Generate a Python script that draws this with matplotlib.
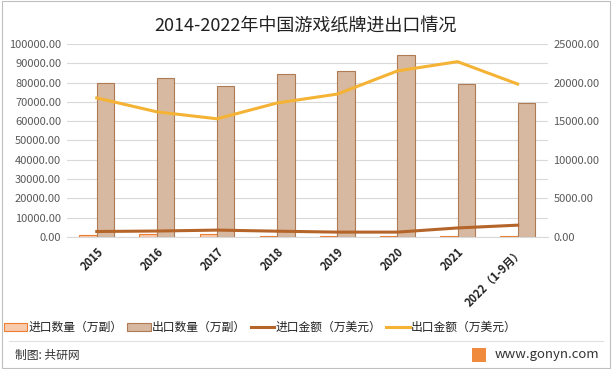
import numpy as np
import matplotlib.pyplot as plt
from matplotlib.patches import Rectangle
from matplotlib.lines import Line2D

plt.rcParams['font.family'] = ['Noto Sans CJK SC', 'DejaVu Sans']

years = ['2015', '2016', '2017', '2018', '2019', '2020', '2021', '2022（1-9月）']
import_qty = [1200, 1250, 1300, 700, 650, 600, 550, 500]
export_qty = [79800, 82400, 78200, 84500, 86000, 94300, 79400, 69400]
import_amt = [700, 760, 880, 740, 620, 620, 1160, 1520]
export_amt = [18000, 16200, 15300, 17350, 18500, 21500, 22700, 19800]

fig = plt.figure(figsize=(6.12, 3.69), dpi=100)
fig.patches.append(Rectangle((0.003, 0.003), 0.994, 0.994, transform=fig.transFigure,
                             fill=False, edgecolor='#BFBFBF', linewidth=0.8))

ax = fig.add_axes([0.109, 0.358, 0.786, 0.523])
ax2 = ax.twinx()

x = np.arange(len(years))
w = 0.29
ax.bar(x - w / 2, import_qty, w, color='#F8CBAD', edgecolor='#ED7D31', linewidth=0.8, zorder=2)
ax.bar(x + w / 2, export_qty, w, color='#D6B9A0', edgecolor='#B07A55', linewidth=0.8, zorder=2)
ax2.plot(x, import_amt, color='#B5652A', linewidth=2.2, zorder=3)
ax2.plot(x, export_amt, color='#F5B335', linewidth=2.2, zorder=3)

ax.set_xlim(-0.5, len(years) - 0.5)
ax.set_ylim(0, 100000)
ax2.set_ylim(0, 25000)
ax.set_yticks(np.arange(0, 100001, 10000))
ax2.set_yticks(np.arange(0, 25001, 5000))
ax.set_yticklabels(['%.2f' % v for v in np.arange(0, 100001, 10000)])
ax2.set_yticklabels(['%.2f' % v for v in np.arange(0, 25001, 5000)])
ax.grid(axis='y', color='#D9D9D9', linewidth=0.8, zorder=0)
ax.set_axisbelow(True)

for a in (ax, ax2):
    for s in a.spines.values():
        s.set_visible(False)
    a.tick_params(axis='y', length=0, labelsize=8, labelcolor='#595959', pad=4)
ax.spines['bottom'].set_visible(True)
ax.spines['bottom'].set_color('#D9D9D9')

ax.set_xticks(x)
ax.set_xticklabels(years, rotation=45, ha='right', rotation_mode='anchor',
                   fontsize=8, fontweight='bold', color='#222222')
ax.tick_params(axis='x', length=0, pad=6)

fig.text(0.5, 0.93, '2014-2022年中国游戏纸牌进出口情况', ha='center', va='center',
         fontsize=13, color='#222222')

handles = [
    Rectangle((0, 0), 1, 1, facecolor='#F8CBAD', edgecolor='#ED7D31', linewidth=0.8),
    Rectangle((0, 0), 1, 1, facecolor='#D6B9A0', edgecolor='#B07A55', linewidth=0.8),
    Line2D([0], [0], color='#B5652A', linewidth=2.2),
    Line2D([0], [0], color='#F5B335', linewidth=2.2),
]
labels = ['进口数量（万副）', '出口数量（万副）', '进口金额（万美元）', '出口金额（万美元）']
fig.legend(handles, labels, loc='center', bbox_to_anchor=(0.425, 0.112), ncol=4, frameon=False,
           fontsize=8.5, handlelength=2.0, handleheight=0.6, handletextpad=0.1,
           columnspacing=0.4, labelcolor='#222222', borderpad=0)

fig.add_artist(Line2D([0.015, 0.985], [0.076, 0.076], transform=fig.transFigure,
                      color='#E0E0E0', linewidth=0.8))
fig.text(0.025, 0.038, '制图: 共研网', ha='left', va='center', fontsize=8.5, color='#333333')
fig.text(0.98, 0.04, 'www.gonyn.com', ha='right', va='center', fontsize=9.5, color='#333333')
fig.patches.append(Rectangle((0.772, 0.018), 0.022, 0.04, transform=fig.transFigure,
                             facecolor='#F08A3C', edgecolor='none'))

fig.savefig('out.png', dpi=100)
